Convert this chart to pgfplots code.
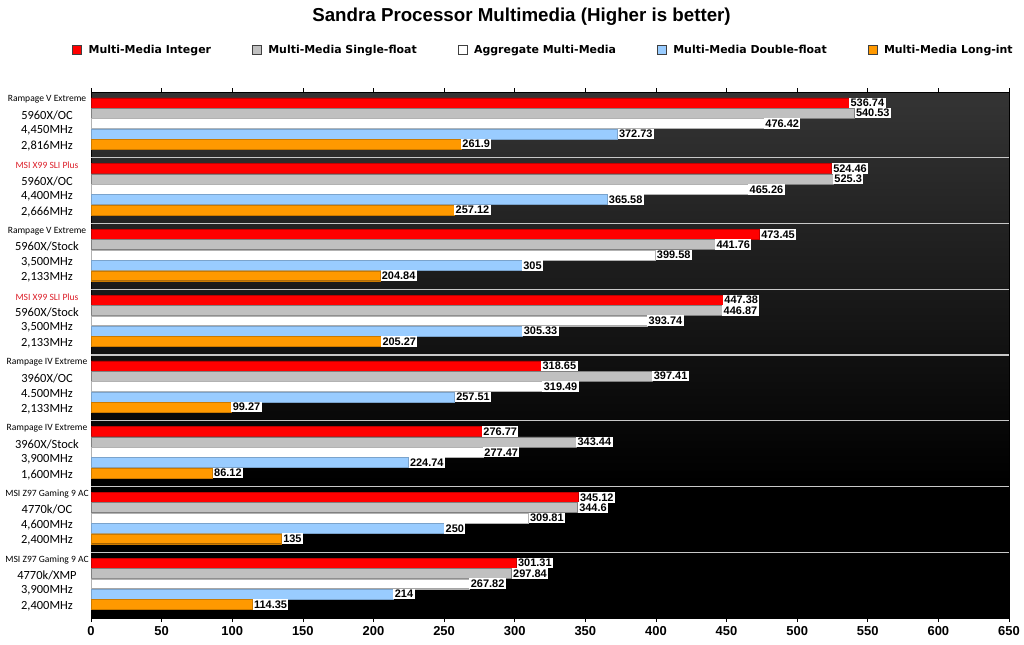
\documentclass[border=0pt]{standalone}
\usepackage{fontspec}
\setmainfont{Liberation Sans}
\newfontfamily\carlito{Carlito}
\newfontfamily\dejavu{DejaVu Sans}
\usepackage{pgfplots}
\usepackage{pgfplotstable}
\pgfplotsset{compat=1.18}
\definecolor{cRed}{RGB}{255,0,0}
\definecolor{cGray}{RGB}{192,192,192}
\definecolor{cBlue}{RGB}{153,204,255}
\definecolor{cOrange}{RGB}{255,153,0}
\definecolor{bgtop}{RGB}{88,88,88}
\definecolor{sepgray}{RGB}{200,200,200}
\definecolor{boardred}{RGB}{220,30,40}
\pgfdeclareverticalshading{plotbg}{100bp}{color(0bp)=(black); color(38bp)=(black); color(100bp)=(bgtop)}
\newcommand\bn[1]{{\fontsize{9.6}{10}\selectfont #1}}
\newcommand\bnr[1]{{\fontsize{9.6}{10}\selectfont\color{boardred}#1}}

\pgfplotstableread{
g int single agg double long
0 536.74 540.53 476.42 372.73 261.9
1 524.46 525.3 465.26 365.58 257.12
2 473.45 441.76 399.58 305 204.84
3 447.38 446.87 393.74 305.33 205.27
4 318.65 397.41 319.49 257.51 99.27
5 276.77 343.44 277.47 224.74 86.12
6 345.12 344.6 309.81 250 135
7 301.31 297.84 267.82 214 114.35
}\datatable

\pgfplotsset{
  mybar/.style={xbar, bar shift=0pt, bar width=0.152,
    legend image code/.code={\draw[##1,/tikz/.cd,draw=black!75,line width=0.5bp] (0bp,-4.5bp) rectangle (9bp,4.5bp); \path[draw=none,fill=none] (0bp,0bp) -- (14bp,0bp);}},
}

\begin{document}
\begin{tikzpicture}
\useasboundingbox (0,0) rectangle (1024bp,645bp);
\begin{axis}[
  at={(91bp,27bp)}, anchor=south west,
  width=918bp, height=526bp, scale only axis,
  xmin=0, xmax=650, ymin=0, ymax=8, y dir=reverse,
  axis background/.style={shading=plotbg},
  axis line style={black, line width=0.6bp},
  xtick={0,50,...,650},
  tick align=outside, major tick length=4bp,
  xtick style={black, line width=0.6bp},
  /pgf/number format/assume math mode=true,
  xticklabel style={font={\fontsize{13}{14}\selectfont\bfseries}, yshift=-1bp},
  ytick={0.115,0.353,0.583,0.823,1.115,1.353,1.583,1.823,2.115,2.353,2.583,2.823,3.115,3.353,3.583,3.823,4.115,4.353,4.583,4.823,5.115,5.353,5.583,5.823,6.115,6.353,6.583,6.823,7.115,7.353,7.583,7.823},
  yticklabels={
    \bn{Rampage V Extreme},{5960X/OC},{4,450MHz},{2,816MHz},
    \bnr{MSI X99 SLI Plus},{5960X/OC},{4,400MHz},{2,666MHz},
    \bn{Rampage V Extreme},{5960X/Stock},{3,500MHz},{2,133MHz},
    \bnr{MSI X99 SLI Plus},{5960X/Stock},{3,500MHz},{2,133MHz},
    \bn{Rampage IV Extreme},{3960X/OC},{4.500MHz},{2,133MHz},
    \bn{Rampage IV Extreme},{3960X/Stock},{3,900MHz},{1,600MHz},
    \bn{MSI Z97 Gaming 9 AC},{4770k/OC},{4,600MHz},{2,400MHz},
    \bn{MSI Z97 Gaming 9 AC},{4770k/XMP},{3,900MHz},{2,400MHz}},
  ytick style={draw=none},
  yticklabel style={font={\carlito\fontsize{12.5}{13}\selectfont}, inner sep=0pt, anchor=center, xshift=-40bp},
  extra y ticks={1,2,3,4,5,6,7},
  extra y tick labels={},
  extra y tick style={grid=major, major grid style={draw=sepgray, line width=1.2bp}},
  title={Sandra Processor Multimedia (Higher is better)},
  title style={font={\fontsize{18.8}{20}\selectfont\bfseries}, at={(0.469,1.131)}, anchor=center, inner sep=0pt},
  legend style={at={(0.493,1.08)}, anchor=center, draw=none, fill=none,
    legend columns=5, font={\dejavu\bfseries\fontsize{11}{12}\selectfont},
    /tikz/every even column/.append style={column sep=39bp}},
  point meta=explicit symbolic,
  nodes near coords,
  every node near coord/.append style={font={\fontsize{11}{12}\selectfont\bfseries}, fill=white, text=black, inner sep=1.4bp, anchor=west},
]
\addplot[mybar, fill=cRed, draw=red!75!black, line width=0.4bp] table[x=int, y expr=\thisrow{g}+0.164, meta=int] {\datatable};
\addlegendentry{Multi-Media Integer}
\addplot[mybar, fill=cGray, draw=gray, line width=0.4bp] table[x=single, y expr=\thisrow{g}+0.3215, meta=single] {\datatable};
\addlegendentry{Multi-Media Single-float}
\addplot[mybar, fill=white, draw=gray!60, line width=0.4bp] table[x=agg, y expr=\thisrow{g}+0.479, meta=agg] {\datatable};
\addlegendentry{Aggregate Multi-Media}
\addplot[mybar, fill=cBlue, draw=cBlue!80!black, line width=0.4bp] table[x=double, y expr=\thisrow{g}+0.6365, meta=double] {\datatable};
\addlegendentry{Multi-Media Double-float}
\addplot[mybar, fill=cOrange, draw=cOrange!80!black, line width=0.4bp] table[x=long, y expr=\thisrow{g}+0.794, meta=long] {\datatable};
\addlegendentry{Multi-Media Long-int}
\end{axis}
\end{tikzpicture}
\end{document}
